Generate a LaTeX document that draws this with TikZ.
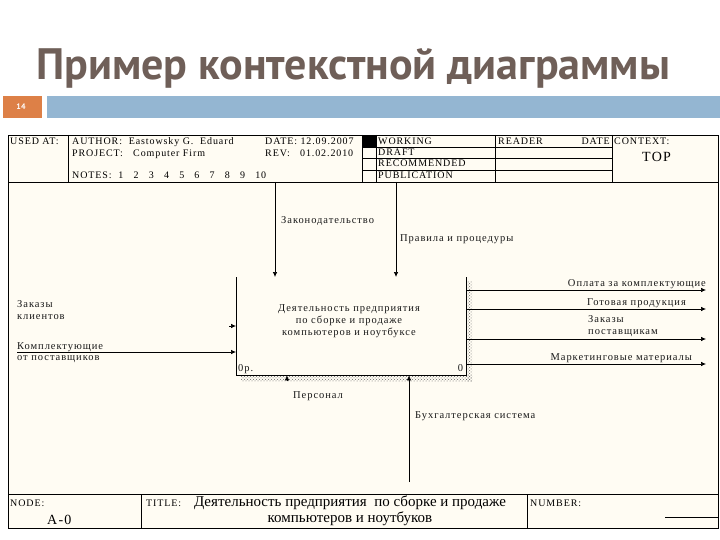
\documentclass[tikz,border=0pt]{standalone}
\usepackage{fontspec}
\setmainfont{Liberation Serif}
\newfontfamily\titlefont{PT Sans}
\newfontfamily\formfont[LetterSpace=9]{Liberation Serif}
\usetikzlibrary{arrows.meta, positioning, patterns}
\definecolor{cream}{HTML}{FFFCF3}
\definecolor{titlebrown}{HTML}{6F5F58}
\definecolor{barblue}{HTML}{94B6D2}
\definecolor{barorange}{HTML}{DD8047}

\tikzset{
  frame/.style={draw=black, line width=0.9pt},
  thin/.style={draw=black, line width=0.6pt},
  lbl/.style={font=\formfont\fontsize{10.5}{12}\selectfont, inner sep=0pt, text=black!90},
  hdr/.style={font=\formfont\fontsize{10}{11}\selectfont, inner sep=0pt, anchor=base west},
  arr/.style={draw=black, line width=0.7pt, -{Latex[length=5pt, width=4.5pt]}},
  shade/.style={pattern=crosshatch dots, pattern color=black!60}
}

\begin{document}
\begin{tikzpicture}[x=1pt, y=-1pt]
  \useasboundingbox (0,0) rectangle (720,540);
  \fill[white] (0,0) rectangle (720,540);

  % Slide title and bar
  \node[anchor=base west, inner sep=0pt, text=titlebrown, font=\titlefont\bfseries\fontsize{44}{48}\selectfont] (title) at (36,80) {Пример контекстной диаграммы};
  \fill[barorange] (3,96) rectangle (42,118);
  \node[font=\titlefont\bfseries\fontsize{8}{9}\selectfont, text=white] (pageno) at (21,107) {14};
  \fill[barblue] (47,96) rectangle (720,118);

  % Form background and frame
  \fill[cream] (8,135) rectangle (718,528);
  \draw[frame] (8,135) rectangle (718,528);
  \draw[thin] (8,182) -- (718,182);
  \draw[thin] (8,494) -- (718,494);

  % Header columns
  \draw[thin] (68,135) -- (68,182);
  \draw[thin] (362,135) -- (362,182);
  \draw[thin] (376,135) -- (376,182);
  \draw[thin] (495,135) -- (495,182);
  \draw[thin] (612,135) -- (612,182);
  \foreach \ry in {147,158,170}
    \draw[thin] (362,\ry) -- (612,\ry);
  \fill[black] (362,135) rectangle (376,147);

  \node[hdr] (usedat) at (10,145) {USED AT:};
  \node[hdr] (author) at (72,145) {AUTHOR:\ \ Eastowsky\ G.\ \ Eduard};
  \node[hdr] (date) at (265,145) {DATE:\ 12.09.2007};
  \node[hdr] (project) at (72,157) {PROJECT:\ \ \ Computer Firm};
  \node[hdr] (rev) at (265,157) {REV:\ \ \ 01.02.2010};
  \node[hdr] (notes) at (72,179) {NOTES:\ \ 1\ \ \ 2\ \ \ 3\ \ \ 4\ \ \ 5\ \ \ 6\ \ \ 7\ \ \ 8\ \ \ 9\ \ \ 10};
  \node[hdr] (working) at (378,145) {WORKING};
  \node[hdr] (draft) at (378,156) {DRAFT};
  \node[hdr] (recommended) at (378,167) {RECOMMENDED};
  \node[hdr] (publication) at (378,179) {PUBLICATION};
  \node[hdr] (reader) at (498,145) {READER};
  \node[hdr, anchor=base east] (rdate) at (610,145) {DATE};
  \node[hdr] (context) at (614,145) {CONTEXT:};
  \node[hdr, font=\formfont\fontsize{14}{15}\selectfont] (top) at (642,162) {TOP};

  % Activity box with shadow
  \fill[shade] (466,281) rectangle (472,381);
  \fill[shade] (241,375) rectangle (472,381);
  \node[minimum width=230pt, minimum height=98pt, inner sep=0pt, anchor=north west] (act) at (236,277) {};
  \draw[frame] (act.north west) -- (act.south west) -- (act.south east) -- (act.north east);
  \node[lbl, align=center] (acttext) at (349,321) {Деятельность предприятия\\по сборке и продаже\\компьютеров и ноутбуксе};
  \node[lbl, anchor=base west] (opnum) at ([shift={(2,-4)}]act.south west) {0р.};
  \node[lbl, anchor=base east] (actnum) at ([shift={(-3,-4)}]act.south east) {0};

  % Controls
  \coordinate (lawtop) at (275,182);
  \coordinate (ruletop) at (396,182);
  \draw[arr] (lawtop) -- (lawtop |- act.north);
  \draw[arr] (ruletop) -- (ruletop |- act.north);
  \node[lbl, anchor=base west] (law) at (281,223) {Законодательство};
  \node[lbl, anchor=base west] (rules) at (400,241) {Правила и процедуры};

  % Inputs
  \coordinate (ordin) at (229,326);
  \coordinate (partin) at (17,352);
  \draw[arr] (ordin) -- (ordin -| act.west);
  \draw[arr] (partin) -- (partin -| act.west);
  \node[lbl, anchor=base west] (orders) at (17,307) {Заказы};
  \node[lbl, anchor=base west] (ordersb) at (17,319) {клиентов};
  \node[lbl, anchor=base west] (parts) at (17,349) {Комплектующие};
  \node[lbl, anchor=base west] (partsb) at (17,360) {от поставщиков};

  % Outputs
  \foreach \oy/\oname in {290/payout, 309/prodout, 339/supout, 364/mktout} {
    \coordinate (\oname) at (706,\oy);
    \draw[arr] (\oname -| act.east) -- (\oname);
  }
  \node[lbl, anchor=base east] (pay) at (706,286) {Оплата за комплектующие};
  \node[lbl, anchor=base west] (prod) at (587,305) {Готовая продукция};
  \node[lbl, anchor=base west] (sup) at (588,322) {Заказы};
  \node[lbl, anchor=base west] (supb) at (588,334) {поставщикам};
  \node[lbl, anchor=base east] (mkt) at (692,360) {Маркетинговые материалы};

  % Mechanisms
  \coordinate (staffin) at (287,381);
  \coordinate (accin) at (409,482);
  \draw[arr] (staffin) -- (staffin |- act.south);
  \draw[arr] (accin) -- (accin |- act.south);
  \node[lbl, anchor=base west] (staff) at (293,398) {Персонал};
  \node[lbl, anchor=base west] (acc) at (415,418) {Бухгалтерская система};

  % Footer
  \draw[thin] (141,494) -- (141,528);
  \draw[thin] (527,494) -- (527,528);
  \draw[thin] (665,517) -- (718,517);
  \node[hdr] (node) at (10,506) {NODE:};
  \node[hdr, font=\formfont\fontsize{14}{15}\selectfont] (nodeid) at (47,524) {A-0};
  \node[hdr] (ttl) at (146,506) {TITLE:};
  \node[align=center, inner sep=0pt, font=\fontsize{15}{16}\selectfont] (ttltext) at (350,511) {Деятельность предприятия\ \ по сборке и продаже\\компьютеров и ноутбуков};
  \node[hdr] (number) at (530,506) {NUMBER:};
\end{tikzpicture}
\end{document}
